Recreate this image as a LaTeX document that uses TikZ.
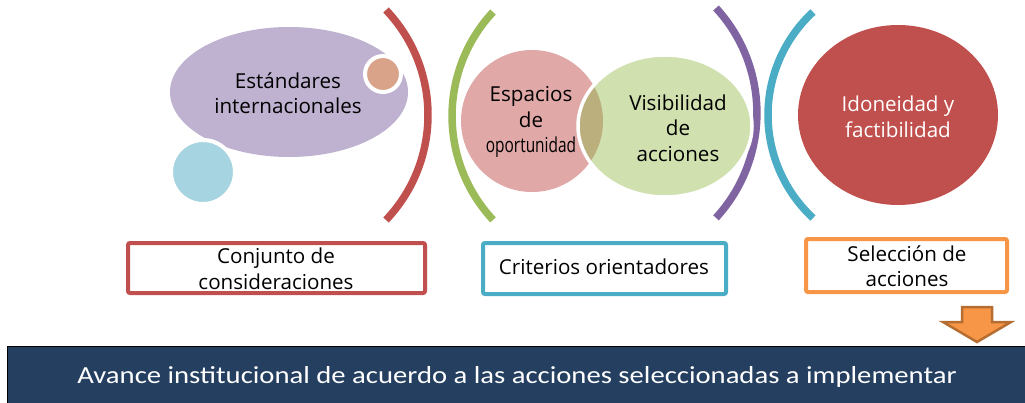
\documentclass[tikz,border=0pt]{standalone}
\usepackage{fontspec}
\usepackage{graphicx}
\setmainfont{Open Sans}
\newfontfamily\barfont{Carlito}
\definecolor{lav}{HTML}{BFB1D0}
\definecolor{tan}{HTML}{D9A38A}
\definecolor{lblue}{HTML}{A6D5E1}
\definecolor{cred}{HTML}{C0504D}
\definecolor{cgreen}{HTML}{9BBB59}
\definecolor{pinkc}{HTML}{E0A8A6}
\definecolor{lgreen}{HTML}{D0E0AE}
\definecolor{overl}{HTML}{BCAF7E}
\definecolor{cpurple}{HTML}{8064A2}
\definecolor{ccyan}{HTML}{4BACC6}
\definecolor{corange}{HTML}{F79646}
\definecolor{darkorange}{HTML}{B66D31}
\definecolor{bar}{HTML}{243F60}
\begin{document}
\begin{tikzpicture}[x=1pt,y=1pt,yscale=-1,
  bracket/.style={line width=7.5pt},
  txt/.style={align=center,inner sep=0pt,font=\fontsize{20.6}{25.5}\selectfont},
  boxstyle/.style={line width=4pt,rounded corners=2pt,fill=white},
  ring/.style={draw=white,line width=4pt}]
\useasboundingbox (0,0) rectangle (1025,402);
% left group
\fill[lav] (289,92) ellipse [x radius=119, y radius=65];
\filldraw[fill=tan,ring] (383,74) circle [radius=18];
\filldraw[fill=lblue,ring] (203,172) circle [radius=32];
\node[txt] (est) at (288,93) {Estándares\\internacionales};
% brackets
\draw[bracket,cred] (386,10) arc[start angle=-43.6, end angle=43.6, radius=152.25pt];
\draw[bracket,cgreen] (493,12) arc[start angle=223, end angle=137, radius=152.4pt];
\draw[bracket,cpurple] (716,8) arc[start angle=-42.6, end angle=42.6, radius=155pt];
\draw[bracket,ccyan] (813,12) arc[start angle=227.2, end angle=132.8, radius=140.4pt];
% middle group
\fill[pinkc] (532,121) circle [radius=71];
\fill[lgreen] (665,126) ellipse [x radius=87, y radius=71];
\begin{scope}
  \clip (532,121) circle [radius=71];
  \fill[overl] (665,126) ellipse [x radius=87, y radius=71];
\end{scope}
\draw[white,line width=3.5pt] (665,126) ellipse [x radius=87, y radius=71];
\node[txt] (esp) at (531,122) {Espacios\\de\\\scalebox{0.75}[1]{oportunidad}};
\node[txt] (vis) at (678,128) {Visibilidad\\de\\acciones};
% right group
\fill[cred] (898,115) ellipse [x radius=100, y radius=90];
\node[txt,text=white] (ido) at (898,117) {Idoneidad y\\factibilidad};
% boxes
\draw[boxstyle,draw=cred] (128,243) rectangle (425,293);
\node[txt] (con) at (276,269) {Conjunto de\\consideraciones};
\draw[boxstyle,draw=ccyan] (483,243) rectangle (726,294);
\node[txt] (cri) at (604,267) {Criterios orientadores};
\draw[boxstyle,draw=corange] (806,239) rectangle (1007,292);
\node[txt] (sel) at (907,266) {Selección de\\acciones};
% bottom bar
\draw[fill=bar,draw=black,line width=1pt] (7,346) rectangle (1030,408);
\node[inner sep=0pt,text=white,font=\barfont\fontsize{24.5}{28}\selectfont] (ava) at (517,377) {\scalebox{1.17}[1]{Avance institucional de acuerdo a las acciones seleccionadas a implementar}};
% arrow
\filldraw[fill=corange,draw=darkorange,line width=2.5pt,line join=miter]
  (962,307) -- (992,307) -- (992,322) -- (1011,322) -- (977,342) -- (943,322) -- (962,322) -- cycle;
\end{tikzpicture}
\end{document}
